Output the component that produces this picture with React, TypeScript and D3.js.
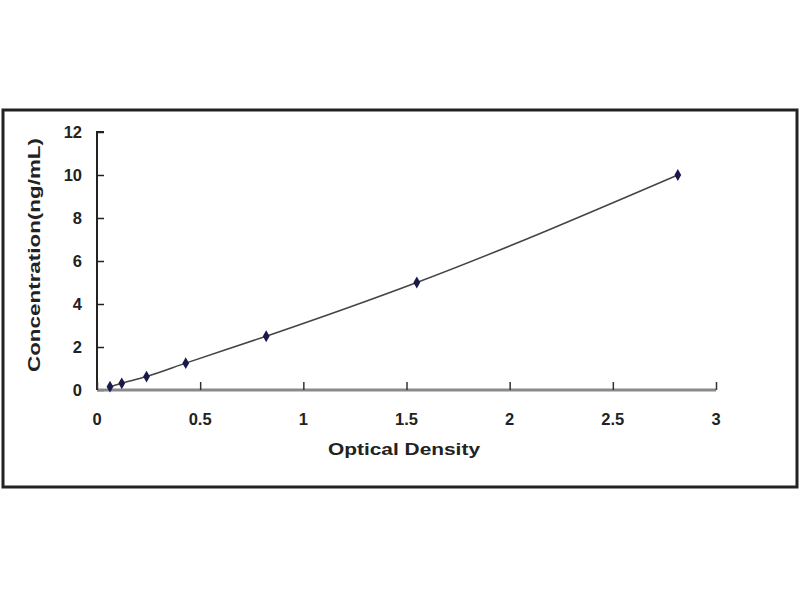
import { useEffect, useRef } from 'react'
import * as d3 from 'd3'

// standard curve points
const opticalDensity = [0.063, 0.12, 0.24, 0.43, 0.82, 1.55, 2.815]
const concentration = [0.156, 0.312, 0.625, 1.25, 2.5, 5, 10]
const xTicks = [0, 0.5, 1, 1.5, 2, 2.5, 3]
const yTicks = [0, 2, 4, 6, 8, 10, 12]

const FONT = '"Liberation Sans", Arial, sans-serif'

export default function App() {
  const svgRef = useRef<SVGSVGElement>(null)

  useEffect(() => {
    if (!svgRef.current) return
    const svg = d3.select(svgRef.current)
    svg.selectAll('*').remove()

    // 외곽 프레임
    svg
      .append('rect')
      .attr('x', 3)
      .attr('y', 110)
      .attr('width', 794)
      .attr('height', 377)
      .attr('fill', '#fff')
      .attr('stroke', '#222')
      .attr('stroke-width', 3)

    const x = d3.scaleLinear().domain([0, 3]).range([97, 716])
    const y = d3.scaleLinear().domain([0, 12]).range([390, 132])

    // Y축
    const yAxis = svg
      .append('g')
      .attr('transform', `translate(${x(0)},0)`)
      .call(d3.axisRight(y).tickValues(yTicks).tickSize(7).tickFormat(() => ''))
    yAxis.select('.domain').attr('stroke', '#222').attr('stroke-width', 2).attr('d', `M7,${y(12)}H0V${y(0)}`)
    yAxis.selectAll('.tick line').attr('stroke', '#222').attr('stroke-width', 1.5)

    svg
      .append('g')
      .selectAll('text')
      .data(yTicks)
      .enter()
      .append('text')
      .attr('x', 82)
      .attr('y', d => y(d) + 6)
      .attr('text-anchor', 'end')
      .style('font-family', FONT)
      .style('font-weight', 'bold')
      .style('font-size', '16.5px')
      .style('fill', '#222')
      .text(d => d)

    // X축
    const xAxis = svg
      .append('g')
      .attr('transform', `translate(0,${y(0)})`)
      .call(d3.axisTop(x).tickValues(xTicks).tickSize(8).tickFormat(() => ''))
    xAxis.select('.domain').attr('stroke', '#8a8a8a').attr('stroke-width', 3).attr('d', `M${x(0)},0H${x(3)}`)
    xAxis.selectAll('.tick line').attr('stroke', '#333').attr('stroke-width', 1.5)

    svg
      .append('g')
      .selectAll('text')
      .data(xTicks)
      .enter()
      .append('text')
      .attr('x', d => x(d))
      .attr('y', 425)
      .attr('text-anchor', 'middle')
      .style('font-family', FONT)
      .style('font-weight', 'bold')
      .style('font-size', '16.5px')
      .style('fill', '#222')
      .text(d => d)

    // 곡선
    const pts = opticalDensity.map((od, i) => [od, concentration[i]] as [number, number])
    const line = d3
      .line<[number, number]>()
      .x(d => x(d[0]))
      .y(d => y(d[1]))
      .curve(d3.curveMonotoneX)
    svg
      .append('path')
      .datum(pts)
      .attr('d', line)
      .attr('fill', 'none')
      .attr('stroke', '#444')
      .attr('stroke-width', 1.5)

    // 마커
    svg
      .append('g')
      .selectAll('path')
      .data(pts)
      .enter()
      .append('path')
      .attr('transform', d => `translate(${x(d[0])},${y(d[1])})`)
      .attr('d', d3.symbol(d3.symbolDiamond, 40)())
      .attr('fill', '#1a1a4a')

    // 축 제목
    svg
      .append('text')
      .attr('x', 404)
      .attr('y', 455)
      .attr('text-anchor', 'middle')
      .attr('textLength', 152)
      .attr('lengthAdjust', 'spacingAndGlyphs')
      .style('font-family', FONT)
      .style('font-weight', 'bold')
      .style('font-size', '16px')
      .style('fill', '#222')
      .text('Optical Density')

    svg
      .append('text')
      .attr('transform', 'translate(40,255) rotate(-90)')
      .attr('text-anchor', 'middle')
      .attr('textLength', 234)
      .attr('lengthAdjust', 'spacingAndGlyphs')
      .style('font-family', FONT)
      .style('font-weight', 'bold')
      .style('font-size', '16px')
      .style('fill', '#222')
      .text('Concentration(ng/mL)')
  }, [])

  return (
    <div style={{ position: 'absolute', left: 0, top: 0 }}>
      <svg ref={svgRef} width={800} height={600} style={{ display: 'block', background: '#fff' }}></svg>
    </div>
  )
}
